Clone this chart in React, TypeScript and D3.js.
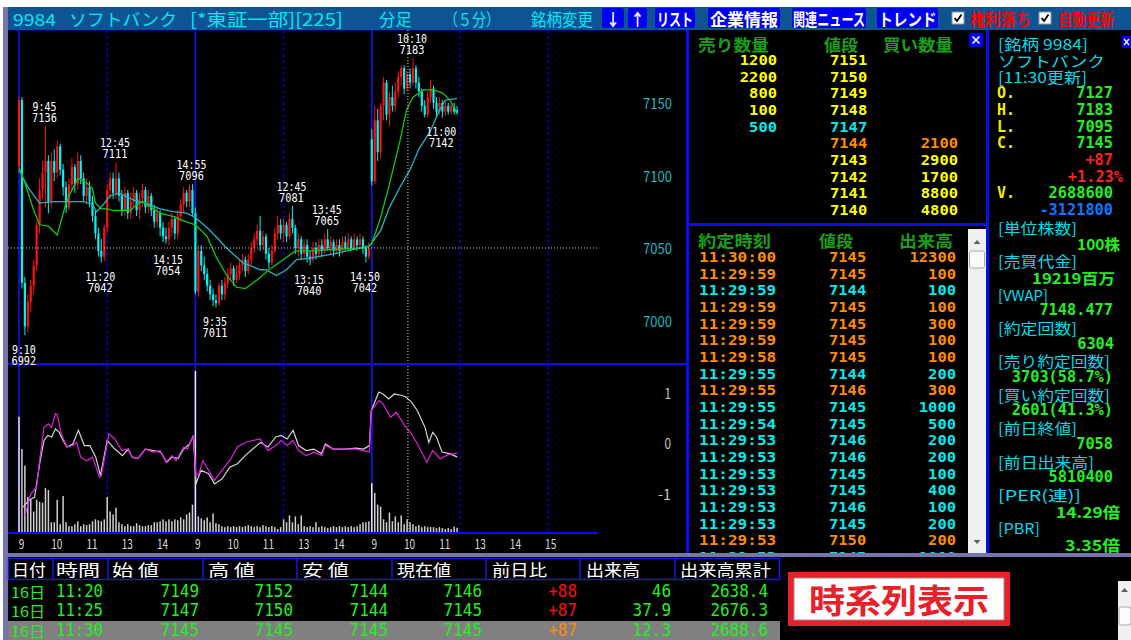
import React from "react";
import * as d3 from "d3";

const JP = '"Noto Sans CJK JP","Noto Sans",sans-serif';
const MONO = '"DejaVu Sans Mono","Liberation Mono",monospace';

// ---- 5-minute candles: day1 9:00-14:55 (0-59), day2 (60-119), day3 9:00-11:25 (120-149)
const OPEN = [
  7108,7154,7028,6998,7015,7026,7040,7068,7092,7104,7112,7084,7112,7104,7122,7106,7094,7080,7096,7108,
  7096,7112,7100,7088,7094,7084,7074,7062,7050,7046,7066,7092,7100,7090,7100,7088,7078,7090,7076,7084,
  7090,7078,7086,7092,7080,7088,7078,7070,7076,7066,7060,7058,7066,7072,7062,7074,7082,7090,7084,7092,
  7076,7022,7050,7040,7034,7026,7020,7016,7014,7026,7020,7028,7034,7038,7030,7034,7040,7044,7036,7044,
  7052,7058,7064,7054,7060,7048,7042,7050,7062,7068,7062,7068,7060,7072,7066,7052,7058,7048,7054,7046,
  7044,7052,7048,7054,7050,7058,7052,7056,7050,7054,7050,7056,7052,7058,7052,7058,7054,7058,7052,7046,
  7127,7098,7140,7118,7150,7166,7144,7156,7150,7160,7170,7176,7162,7172,7166,7176,7166,7160,7150,7144,
  7156,7162,7152,7146,7152,7146,7150,7146,7149,7147,
];
const HIGH = [
  7156,7156,7032,7020,7030,7044,7070,7100,7112,7136,7116,7118,7120,7126,7124,7110,7098,7100,7114,7110,
  7118,7116,7104,7100,7098,7088,7078,7066,7058,7068,7096,7104,7104,7111,7104,7092,7094,7092,7090,7094,
  7092,7090,7096,7094,7092,7090,7082,7080,7078,7070,7066,7070,7076,7074,7078,7086,7094,7092,7096,7096,
  7080,7054,7054,7046,7038,7030,7024,7020,7028,7030,7032,7038,7042,7040,7040,7044,7048,7046,7048,7056,
  7062,7068,7074,7064,7062,7052,7054,7066,7074,7072,7072,7070,7076,7081,7068,7062,7060,7058,7058,7050,
  7056,7056,7058,7058,7062,7065,7060,7058,7058,7058,7060,7060,7062,7060,7062,7060,7062,7060,7054,7056,
  7134,7150,7148,7152,7170,7168,7160,7164,7166,7174,7178,7178,7174,7176,7183,7178,7170,7162,7154,7160,
  7168,7164,7156,7156,7154,7154,7152,7152,7152,7150,
];
const LOW = [
  7104,7024,6992,6994,7008,7020,7036,7062,7086,7080,7076,7080,7098,7100,7102,7088,7076,7078,7092,7090,
  7092,7096,7084,7082,7080,7070,7058,7046,7042,7043,7062,7086,7086,7086,7084,7074,7074,7072,7072,7080,
  7074,7072,7080,7076,7076,7074,7066,7066,7060,7056,7055,7054,7060,7058,7058,7070,7076,7080,7080,7074,
  7020,7018,7036,7030,7022,7016,7012,7011,7012,7016,7016,7024,7030,7026,7028,7030,7036,7032,7034,7040,
  7048,7054,7050,7050,7044,7038,7040,7048,7058,7058,7056,7056,7058,7062,7048,7046,7044,7044,7042,7040,
  7042,7044,7046,7046,7048,7050,7048,7046,7048,7046,7048,7050,7050,7050,7050,7050,7052,7048,7042,7044,
  7095,7096,7112,7114,7140,7140,7136,7146,7146,7156,7164,7158,7160,7162,7164,7162,7156,7146,7142,7142,
  7152,7148,7142,7144,7142,7143,7144,7144,7144,7144,
];
const CLOSE = [
  7154,7028,6998,7015,7026,7040,7068,7092,7104,7112,7084,7112,7104,7122,7106,7094,7080,7096,7108,7096,
  7112,7100,7088,7094,7084,7074,7062,7050,7046,7066,7092,7100,7090,7100,7088,7078,7090,7076,7084,7090,
  7078,7086,7092,7080,7088,7078,7070,7076,7066,7060,7058,7066,7072,7062,7074,7082,7090,7084,7092,7076,
  7022,7050,7040,7034,7026,7020,7016,7014,7026,7020,7028,7034,7038,7030,7034,7040,7044,7036,7044,7052,
  7058,7064,7054,7060,7048,7042,7050,7062,7068,7062,7068,7060,7072,7066,7052,7058,7048,7054,7046,7044,
  7052,7048,7054,7050,7058,7052,7056,7050,7054,7050,7056,7052,7058,7052,7058,7054,7058,7052,7046,7052,
  7098,7140,7118,7150,7166,7144,7156,7150,7160,7170,7176,7162,7172,7166,7176,7166,7160,7150,7144,7156,
  7162,7152,7146,7152,7146,7150,7146,7150,7146,7145,
];
// volume, thousand shares
const VOLUME = [
  833,602,483,259,238,154,238,224,217,322,308,77,77,238,63,266,77,49,49,63,
  84,49,63,56,63,84,98,91,84,98,259,154,133,182,77,63,49,63,49,49,
  70,56,49,49,56,56,77,77,84,98,84,98,84,98,91,112,98,133,147,203,
  1162,119,105,91,112,77,140,70,63,49,42,49,42,49,42,49,42,49,56,49,
  42,49,42,56,49,42,49,42,28,42,98,77,126,77,119,63,126,49,42,49,
  42,77,42,49,42,35,42,49,42,49,42,49,42,49,42,49,63,77,77,84,
  357,287,203,189,98,77,147,84,119,77,126,63,98,77,63,49,56,42,49,42,
  42,42,35,42,35,28,35,28,46,38,
];

// moving averages (bar index, price)
const MA_SHORT_IDX = [0,2,5,7,10,13,16,18,20,23,25,26,28,30,32,38,40,42,45,48,52,57,60,64,67,71,74,77,81,85,90,94,99,107,118,120,123,126,129.6,131.8,134,137.5,141,144,146.6,149];
const MA_SHORT_VAL = [7107,7097,7078,7068,7067,7061,7083,7092,7100,7097,7093,7083,7079,7079,7078,7078,7082,7084,7080,7076,7074,7070,7068,7060,7046,7032,7025,7024,7030,7037,7044,7050,7050,7051,7052,7055,7073,7096,7126,7147,7156,7161,7161,7159,7154,7145];
const MA_LONG_IDX = [0,3,7,12,22,25,26.4,28.7,31,34,39,43,48,52.5,57,60,65,70.6,76,82,84,87.6,91,94.4,99,107,116,119,123,126,129.6,133,136,140,143,145,149];
const MA_LONG_VAL = [7106,7094,7083,7084,7084,7082,7077,7082,7088,7090,7085,7083,7079,7077,7076,7073,7064,7052,7042,7037,7037,7033,7037,7044,7045,7048,7052,7053,7064,7080,7094,7106,7120,7133,7147,7154,7155];

// oscillator lines (bar index, value)
const OSC_W_IDX = [1.4,3.3,5.3,7.2,8.5,9.8,11.1,12.4,13.7,15,16.3,18.3,20.2,22.2,24.1,26.1,27.7,30,32.6,35.2,37.2,38.5,40.4,43,45.6,48.2,50.2,52.1,54.1,56,58,59.3,60.2,61.9,64.5,66.5,69.1,71.7,74.3,76.9,79.5,82.1,84.7,87.3,89.2,91.2,93.2,95.1,97.7,100.3,102.9,104.2,106.8,110.7,114.6,117.2,119.2,119.8,122.4,123.8,125.7,127.7,130.3,131.6,133.5,135.5,138.1,139.4,140.7,142,143.9,146.5,149.1];
const OSC_W_VAL = [-1.28,-1.15,-1.08,-0.36,0.04,0.14,0.11,0.27,0.20,0.04,-0.09,-0.03,0.24,-0.06,-0.06,-0.29,-0.65,0.04,-0.13,-0.26,-0.13,-0.29,-0.32,-0.13,-0.16,-0.19,-0.39,-0.29,-0.32,-0.13,-0.03,0.14,-0.82,-0.55,-0.62,-0.82,-0.72,-0.49,-0.42,-0.26,-0.13,0.0,-0.09,0.11,0.14,0.07,0.24,-0.06,-0.16,-0.13,-0.22,-0.03,-0.13,-0.13,-0.11,-0.13,-0.06,0.63,1.0,0.96,0.86,0.96,0.93,0.90,0.80,0.63,0.30,0.0,0.20,0.11,-0.19,-0.22,-0.29];
const OSC_M_IDX = [2,4,6,7,8.5,10,11,12.4,13,14.4,16.3,18.3,19.6,21,23,25,27.4,28,30.6,32.6,35,37,38.5,40.4,43,45.6,48,50,52,53.4,56,57.3,59.3,60.2,61.2,62.5,64.5,66.5,69,71.7,74.3,77,79.5,82,84.7,87.3,89.2,91.2,93.2,95.1,97.7,100.3,103,104.2,106.8,110.7,114.6,117.2,119.2,119.8,122.4,123.8,126.4,128.3,131.6,133.5,135.5,138.7,140.7,143.3,145.9,149.1];
const OSC_M_VAL = [-1.45,-1.02,-0.88,-0.36,0.30,0.37,0.30,0.57,0.55,0.17,-0.09,-0.06,0.0,-0.29,-0.36,-0.29,-0.69,-0.66,0.17,0.07,-0.16,-0.13,-0.29,-0.32,-0.13,-0.19,-0.16,-0.39,-0.26,-0.36,-0.09,-0.13,0.14,-0.65,-0.62,-0.36,-0.55,-0.75,-0.55,-0.36,-0.09,0.0,0.04,0.07,-0.16,-0.06,0.04,-0.06,0.04,-0.16,-0.26,-0.19,-0.26,-0.06,-0.13,-0.13,-0.13,-0.16,-0.19,0.63,0.83,0.77,0.50,0.60,0.30,0.17,-0.03,-0.39,-0.16,-0.32,-0.24,-0.21];

const PRICE_TICKS = [7150, 7100, 7050, 7000];
const OSC_TICKS = [1, 0, -1];
const HOUR_IDX = [0,12,24,36,48,60,72,84,96,108,120,132,144,156,168,180];
const HOUR_LABELS = ["9","10","11","13","14","9","10","11","13","14","9","10","11","13","14","15"];
const DAY_STARTS = [0, 60, 120];
const SESSION_BREAKS = [30, 90, 150, 180];
const CROSS_IDX = 132.3;
const CROSS_PRICE = 7052;

const NOTE_IDX = [9, 2, 28, 33, 51, 59, 67, 93, 99, 105, 118, 134, 144];
const NOTE_TIME = ["9:45","9:10","11:20","12:45","14:15","14:55","9:35","12:45","13:15","13:45","14:50","10:10","11:00"];
const NOTE_PRICE = [7136, 6992, 7042, 7111, 7054, 7096, 7011, 7081, 7040, 7065, 7042, 7183, 7142];
const NOTE_HIGH = [true, false, false, true, false, true, false, true, false, true, false, true, false];

// order book
const BOOK_PRICE = [7151,7150,7149,7148,7147,7144,7143,7142,7141,7140];
const BOOK_ASK = [1200,2200,800,100,500,null,null,null,null,null];
const BOOK_BID = [null,null,null,null,null,2100,2900,1700,8800,4800];
const BOOK_COLOR = ["y","y","y","y","c","o","y","y","y","y"];

// time & sales
const TICK_TIME = ["11:30:00","11:29:59","11:29:59","11:29:59","11:29:59","11:29:59","11:29:58","11:29:55","11:29:55","11:29:55","11:29:54","11:29:53","11:29:53","11:29:53","11:29:53","11:29:53","11:29:53","11:29:53","11:29:53"];
const TICK_PRICE = [7145,7145,7144,7145,7145,7145,7145,7144,7146,7145,7145,7146,7146,7145,7145,7146,7145,7150,7145];
const TICK_VOL = [12300,100,100,100,300,100,100,200,300,1000,500,200,200,100,400,100,200,200,1000];
const TICK_SIDE = ["o","o","c","o","o","o","o","c","o","c","c","c","c","c","c","c","c","o","c"];

// bottom table
const TABLE_HEAD = ["日付","時間","始 値","高 値","安 値","現在値","前日比","出来高","出来高累計"];
const TABLE_DAY = ["16日","16日","16日"];
const TABLE_TIME = ["11:20","11:25","11:30"];
const TABLE_OPEN = ["7149","7147","7145"];
const TABLE_HIGH = ["7152","7150","7145"];
const TABLE_LOW = ["7144","7144","7145"];
const TABLE_LAST = ["7146","7145","7145"];
const TABLE_CHG = ["+88","+87","+87"];
const TABLE_VOL = ["46","37.9","12.3"];
const TABLE_CUM = ["2638.4","2676.3","2688.6"];

const COL = { y: "#ffff00", c: "#00ecec", o: "#ff8c00" };

const unitsOf = (s) => Array.from(String(s)).reduce((a, ch) => a + (ch.charCodeAt(0) < 0x2000 ? 1 : 2), 0);
const lenOf = (it) => (it.w != null ? it.w : it.cw ? unitsOf(it.s) * it.cw : undefined);

function T(props) {
  const { x, y, s, fill = "#fff", size = 15, anchor = "start", weight = 400, family = JP } = props;
  const len = lenOf(props);
  return (
    <text x={x} y={y} fill={fill} fontSize={size} fontWeight={weight} fontFamily={family}
      textAnchor={anchor} dominantBaseline="central"
      textLength={len} lengthAdjust={len ? "spacingAndGlyphs" : undefined}>{s}</text>
  );
}

// several positioned runs inside one text element
function TS({ items, clip }) {
  return (
    <text dominantBaseline="central" clipPath={clip}>
      {items.map((it, k) => {
        const len = lenOf(it);
        return (
          <tspan key={k} x={it.x} y={it.y} fill={it.fill || "#fff"} fontSize={it.size || 15}
            fontWeight={it.weight || 400} fontFamily={it.family || JP} textAnchor={it.anchor || "start"}
            textLength={len} lengthAdjust={len ? "spacingAndGlyphs" : undefined}>{it.s}</tspan>
        );
      })}
    </text>
  );
}

export default function App() {
  const x = d3.scaleLinear().domain([0, 180]).range([19, 548.2]);
  const yP = d3.scaleLinear().domain([6992, 7183]).range([335, 58]);
  const yO = d3.scaleLinear().domain([-1, 1]).range([493, 392]);
  const yV = d3.scaleLinear().domain([0, 1190]).range([533, 367]);
  const priceLine = d3.line().x((d) => x(d[0])).y((d) => yP(d[1]));
  const oscLine = d3.line().x((d) => x(d[0])).y((d) => yO(d[1]));
  const zip = (a, b) => a.map((v, i) => [v, b[i]]);

  const blue = "#0a0aff";
  const lav = "#7676ac";

  const headerBtns = [
    { x0: 602, x1: 624, s: "↓", w: 14 },
    { x0: 628, x1: 647, s: "↑", w: 14 },
    { x0: 655, x1: 695, s: "リスト", w: 36 },
    { x0: 708, x1: 780, s: "企業情報", w: 68 },
    { x0: 792, x1: 866, s: "関連ニュース", w: 72 },
    { x0: 877, x1: 938, s: "トレンド", w: 58 },
  ];

  const colB = [8, 53, 108, 203, 297, 392, 486, 580, 675, 780];
  const headX = [12, 56, 112, 208, 302, 397, 492, 586, 680];
  const headW = [34, 44, 47, 47, 47, 54, 55, 54, 91];

  const infoY = (k) => 43 + 16.7 * k;
  const cyanL = "#00dcec";
  const grn = "#22f022";

  // ---- order book text runs
  const gHead = "#18a018";
  const bookItems = [
    { x: 698, y: 43.5, s: "売り数量", w: 71, size: 16, weight: 700, fill: gHead },
    { x: 824, y: 43.5, s: "値段", w: 34, size: 16, weight: 700, fill: gHead },
    { x: 883, y: 43.5, s: "買い数量", w: 70, size: 16, weight: 700, fill: gHead },
  ];
  BOOK_PRICE.forEach((p, k) => {
    const yy = 60 + 16.65 * k;
    const fill = COL[BOOK_COLOR[k]];
    const base = { y: yy, size: 14, weight: 700, family: MONO, fill, cw: 9.3 };
    if (BOOK_ASK[k] != null) bookItems.push({ ...base, x: 777, s: String(BOOK_ASK[k]), anchor: "end" });
    bookItems.push({ ...base, x: 830, s: String(p) });
    if (BOOK_BID[k] != null) bookItems.push({ ...base, x: 958, s: String(BOOK_BID[k]), anchor: "end" });
  });

  // ---- time & sales runs
  const tickItems = [
    { x: 698, y: 240, s: "約定時刻", w: 73, size: 16, weight: 700, fill: gHead },
    { x: 819, y: 240, s: "値段", w: 34, size: 16, weight: 700, fill: gHead },
    { x: 899, y: 240, s: "出来高", w: 54, size: 16, weight: 700, fill: gHead },
  ];
  TICK_TIME.forEach((t, k) => {
    const yy = 257 + 16.67 * k;
    const base = { y: yy, size: 14, weight: 700, family: MONO, fill: COL[TICK_SIDE[k]] };
    tickItems.push({ ...base, x: 699, s: t, cw: 9.65 });
    tickItems.push({ ...base, x: 829, s: String(TICK_PRICE[k]), cw: 9.3 });
    tickItems.push({ ...base, x: 956, s: String(TICK_VOL[k]), cw: 9.3, anchor: "end" });
  });

  // ---- info panel runs
  const lab = (k, s, w) => ({ x: 998, y: infoY(k), s, w, size: 15, fill: cyanL });
  const val = (k, s, rx, fill = grn) => ({ x: rx, y: infoY(k), s, cw: 9.2, anchor: "end", size: 15, family: MONO, weight: 700, fill });
  const infoItems = [
    lab(0, "[銘柄 9984]", 90),
    lab(1, "ソフトバンク", 107),
    lab(2, "[11:30更新]", 89),
    { x: 997, y: infoY(3), s: "O.", cw: 9, size: 15, family: MONO, weight: 700, fill: "#f0f000" },
    { x: 997, y: infoY(4), s: "H.", cw: 9, size: 15, family: MONO, weight: 700, fill: "#f0f000" },
    { x: 997, y: infoY(5), s: "L.", cw: 9, size: 15, family: MONO, weight: 700, fill: "#f0f000" },
    { x: 997, y: infoY(6), s: "C.", cw: 9, size: 15, family: MONO, weight: 700, fill: "#f0f000" },
    val(3, "7127", 1113), val(4, "7183", 1113), val(5, "7095", 1113), val(6, "7145", 1113),
    val(7, "+87", 1113, "#ff2020"),
    val(8, "+1.23%", 1123, "#ff2020"),
    { x: 997, y: infoY(9), s: "V.", cw: 9, size: 15, family: MONO, weight: 700, fill: "#f0f000" },
    val(9, "2688600", 1113),
    val(10, "-3121800", 1113, "#0a78ff"),
    lab(11, "[単位株数]", 79), { ...val(12, "100株", 1120), family: JP, w: 43 },
    lab(13, "[売買代金]", 79), { ...val(14, "19219百万", 1115), family: JP, w: 83 },
    lab(15, "[VWAP]", 50), val(16, "7148.477", 1113),
    lab(17, "[約定回数]", 79), val(18, "6304", 1114),
    lab(19, "[売り約定回数]", 112), val(20, "3703(58.7%)", 1113),
    lab(21, "[買い約定回数]", 112), val(22, "2601(41.3%)", 1113),
    lab(23, "[前日終値]", 79), val(24, "7058", 1113),
    lab(25, "[前日出来高]", 96), val(26, "5810400", 1113),
    lab(27, "[PER(連)]", 83), { ...val(28, "14.29倍", 1120), family: JP, w: 64 },
    lab(29, "[PBR]", 42), { ...val(30, "3.35倍", 1120), family: JP, w: 55 },
  ];

  // ---- table runs
  const tableItems = TABLE_HEAD.map((h, k) => ({ x: headX[k], y: 569, s: h, w: headW[k], size: 16, fill: "#ffffff" }));
  TABLE_DAY.forEach((d, r) => {
    const yy = [590.5, 610, 629.5][r];
    const base = { y: yy, size: 17, family: MONO, fill: "#22f022", cw: 9.6 };
    tableItems.push({ ...base, x: 11, s: d, family: JP, size: 15, w: 34 });
    tableItems.push({ ...base, x: 56, s: TABLE_TIME[r], w: 47 });
    [TABLE_OPEN[r], TABLE_HIGH[r], TABLE_LOW[r], TABLE_LAST[r]].forEach((v, c) => {
      tableItems.push({ ...base, x: colB[c + 3] - 4, s: v, anchor: "end" });
    });
    tableItems.push({ ...base, x: colB[7] - 3, s: TABLE_CHG[r], anchor: "end", fill: r === 2 ? "#ff8c00" : "#ff1010" });
    tableItems.push({ ...base, x: colB[8] - 4, s: TABLE_VOL[r], anchor: "end" });
    tableItems.push({ ...base, x: colB[9] - 12, s: TABLE_CUM[r], anchor: "end" });
  });

  return (
    <div style={{ position: "absolute", left: 0, top: 0 }}>
      <svg width={1131} height={640} style={{ display: "block" }}>
        <defs>
          <clipPath id="chartClip"><rect x={8} y={31} width={590} height={501} /></clipPath>
          <clipPath id="tickClip"><rect x={689} y={227} width={278} height={326} /></clipPath>
        </defs>
        <rect x={0} y={0} width={1131} height={640} fill="#ffffff" />

        {/* header bar */}
        <rect x={3} y={7} width={1128} height={23} fill="#0f5492" />
        <rect x={3} y={7} width={5} height={633} fill={lav} />
        <T x={13} y={18.5} s="9984" w={43} fill="#00e8f4" size={17} />
        <T x={69} y={18.5} s="ソフトバンク" w={108} fill="#00e8f4" size={17} />
        <T x={190} y={18.5} s="[*東証一部][225]" w={153} fill="#00e8f4" size={17} />
        <T x={379} y={18.5} s="分足" w={33} fill="#00e8f4" size={17} />
        <T x={444} y={18.5} s="（５分）" w={56} fill="#00e8f4" size={17} />
        <T x={531} y={18.5} s="銘柄変更" w={62} fill="#00e8f4" size={17} />
        {headerBtns.map((b, i) => (
          <g key={"hb" + i}>
            <rect x={b.x0} y={8} width={b.x1 - b.x0} height={20} rx={2} fill="#0000f0" />
            <T x={(b.x0 + b.x1) / 2} y={18.5} s={b.s} w={b.w} anchor="middle" fill="#ffffff" size={17} weight={700} />
          </g>
        ))}
        {[952, 1039].map((cx, i) => (
          <g key={"cb" + i}>
            <rect x={cx} y={12} width={12} height={12} fill="#ffffff" stroke="#909090" />
            <path d={`M${cx + 2.5} ${18} l2.5 3 l4.5 -6.5`} fill="none" stroke="#000" strokeWidth={1.8} />
          </g>
        ))}
        <T x={970} y={18.5} s="権利落ち" w={61} fill="#ff0000" size={17} weight={700} />
        <T x={1058} y={18.5} s="自動更新" w={56} fill="#ff0000" size={17} weight={700} />

        {/* black panels */}
        <rect x={8} y={30} width={678} height={523} fill="#000" />
        <rect x={686} y={30} width={300} height={523} fill="#000" />
        <rect x={986} y={30} width={145} height={523} fill="#000" />
        <rect x={3} y={553} width={1128} height={4} fill={lav} />
        <rect x={8} y={557} width={1123} height={83} fill="#000" />

        {/* chart grid */}
        <line x1={8} x2={686} y1={30.5} y2={30.5} stroke="#00007a" />
        {DAY_STARTS.map((d) => (
          <line key={"ds" + d} x1={x(d)} x2={x(d)} y1={30} y2={533} stroke="#1414e6" strokeWidth={1.6} />
        ))}
        {SESSION_BREAKS.map((d) => (
          <line key={"sb" + d} x1={x(d)} x2={x(d)} y1={30} y2={533} stroke="#0000ff" strokeWidth={1.2} strokeDasharray="3,3" />
        ))}

        <g clipPath="url(#chartClip)">
          {VOLUME.map((v, i) => (
            <rect key={"v" + i} x={x(i) - 0.75} y={yV(v)} width={1.5} height={533 - yV(v)}
              fill={DAY_STARTS.includes(i) ? "#e8e8ff" : "#cfcfcf"} />
          ))}
          <path d={oscLine(zip(OSC_W_IDX, OSC_W_VAL))} fill="none" stroke="#d4d4d4" strokeWidth={1.2} />
          <path d={oscLine(zip(OSC_M_IDX, OSC_M_VAL))} fill="none" stroke="#e01ee0" strokeWidth={1.2} />

          {OPEN.map((o, i) => {
            const c = CLOSE[i];
            const up = c >= o;
            const col = up ? "#ff1010" : "#00f4f4";
            const y0 = yP(Math.max(o, c));
            const y1 = yP(Math.min(o, c));
            return (
              <g key={"c" + i}>
                <line x1={x(i)} x2={x(i)} y1={yP(HIGH[i])} y2={yP(LOW[i])} stroke={col} strokeWidth={1} />
                <rect x={x(i) - 1.1} y={y0} width={2.2} height={Math.max(1, y1 - y0)} fill={col} />
              </g>
            );
          })}
          <path d={priceLine(zip(MA_LONG_IDX, MA_LONG_VAL))} fill="none" stroke="#22b4c4" strokeWidth={1.3} />
          <path d={priceLine(zip(MA_SHORT_IDX, MA_SHORT_VAL))} fill="none" stroke="#10c810" strokeWidth={1.3} />
        </g>

        {/* crosshair */}
        <line x1={x(CROSS_IDX)} x2={x(CROSS_IDX)} y1={30} y2={533} stroke="#d8d8d8" strokeDasharray="1,2" />
        <line x1={8} x2={598} y1={yP(CROSS_PRICE)} y2={yP(CROSS_PRICE)} stroke="#c8c8c8" strokeDasharray="1,2" />

        {/* panel separators */}
        <line x1={8} x2={686} y1={364} y2={364} stroke={blue} strokeWidth={2} />
        <line x1={8} x2={598} y1={533} y2={533} stroke={blue} strokeWidth={2} />

        {/* high / low annotations */}
        {NOTE_IDX.map((ni, k) => {
          const cx = x(ni) - 1;
          const py = yP(NOTE_PRICE[k]);
          const y1 = NOTE_HIGH[k] ? py - 20 : py + 13.5;
          return (
            <TS key={"n" + k} items={[
              { x: cx, y: y1, s: NOTE_TIME[k], cw: 6, anchor: "middle", size: 13, family: MONO, fill: "#ffffff" },
              { x: cx, y: y1 + 11, s: String(NOTE_PRICE[k]), cw: 6.2, anchor: "middle", size: 13, family: MONO, fill: "#ffffff" },
            ]} />
          );
        })}

        {/* axes labels */}
        {PRICE_TICKS.map((p) => (
          <T key={"pt" + p} x={672} y={yP(p) - 3} s={String(p)} w={29} anchor="end" size={15} fill="#1cb8c4" />
        ))}
        {OSC_TICKS.map((v) => (
          <T key={"ot" + v} x={671} y={yO(v)} s={String(v)} cw={6.5} anchor="end" size={15} fill="#c8c8c8" />
        ))}
        {HOUR_IDX.map((h, k) => (
          <T key={"ht" + k} x={x(h) + 2.5} y={543} s={HOUR_LABELS[k]} cw={5.6} anchor="middle" size={13} fill="#d8d8d8" />
        ))}

        {/* order book */}
        <line x1={687.5} x2={687.5} y1={30} y2={553} stroke={blue} strokeWidth={3} />
        <line x1={987.5} x2={987.5} y1={30} y2={553} stroke={blue} strokeWidth={3} />
        <line x1={686} x2={986} y1={224.5} y2={224.5} stroke={blue} strokeWidth={3} />
        <rect x={969} y={33} width={14} height={14} rx={2} fill="#0000ff" />
        <path d="M972.5 36.5 L979.5 43.5 M979.5 36.5 L972.5 43.5" stroke="#ffffff" strokeWidth={1.6} />
        <TS items={bookItems} />

        {/* time and sales */}
        <TS items={tickItems} clip="url(#tickClip)" />
        <rect x={968} y={229} width={18} height={324} fill="#f0f0f0" />
        <path d="M973.5 244 L977 240 L980.5 244 Z" fill="#606060" />
        <rect x={969.5} y={251} width={15} height={17} rx={2} fill="#fbfbfb" stroke="#a8a8a8" />
        <path d="M973.5 540 L977 544 L980.5 540 Z" fill="#606060" />

        {/* info panel */}
        <rect x={1122} y={36} width={9} height={12} fill="#0000ff" />
        <path d="M1124 39 L1129 45 M1129 39 L1124 45" stroke="#ffffff" strokeWidth={1.3} />
        <TS items={infoItems} />

        {/* bottom table */}
        <rect x={8.5} y={558.5} width={771} height={21} fill="none" stroke="#1818d8" strokeWidth={1.5} />
        {colB.slice(1, -1).map((cx) => (
          <line key={"cb" + cx} x1={cx} x2={cx} y1={558} y2={580} stroke="#1818d8" strokeWidth={1.5} />
        ))}
        <rect x={8} y={621} width={772} height={19} fill="#808080" />
        <TS items={tableItems} />

        {/* time-series button */}
        <rect x={788} y={572} width={222} height={54} fill="#e8202a" />
        <rect x={794} y={578} width={210} height={42} fill="#ffffff" stroke="#909090" strokeWidth={1} />
        <T x={899} y={599} s="時系列表示" w={180} anchor="middle" size={33} weight={700} fill="#e8202a" />

        {/* bottom scrollbar */}
        <rect x={1118} y={581} width={13} height={59} fill="#f0f0f0" />
        <path d="M1121 592 L1124.5 588 L1128 592 Z" fill="#606060" />
        <rect x={1119} y={607} width={12} height={18} rx={2} fill="#fbfbfb" stroke="#a8a8a8" />
      </svg>
    </div>
  );
}
